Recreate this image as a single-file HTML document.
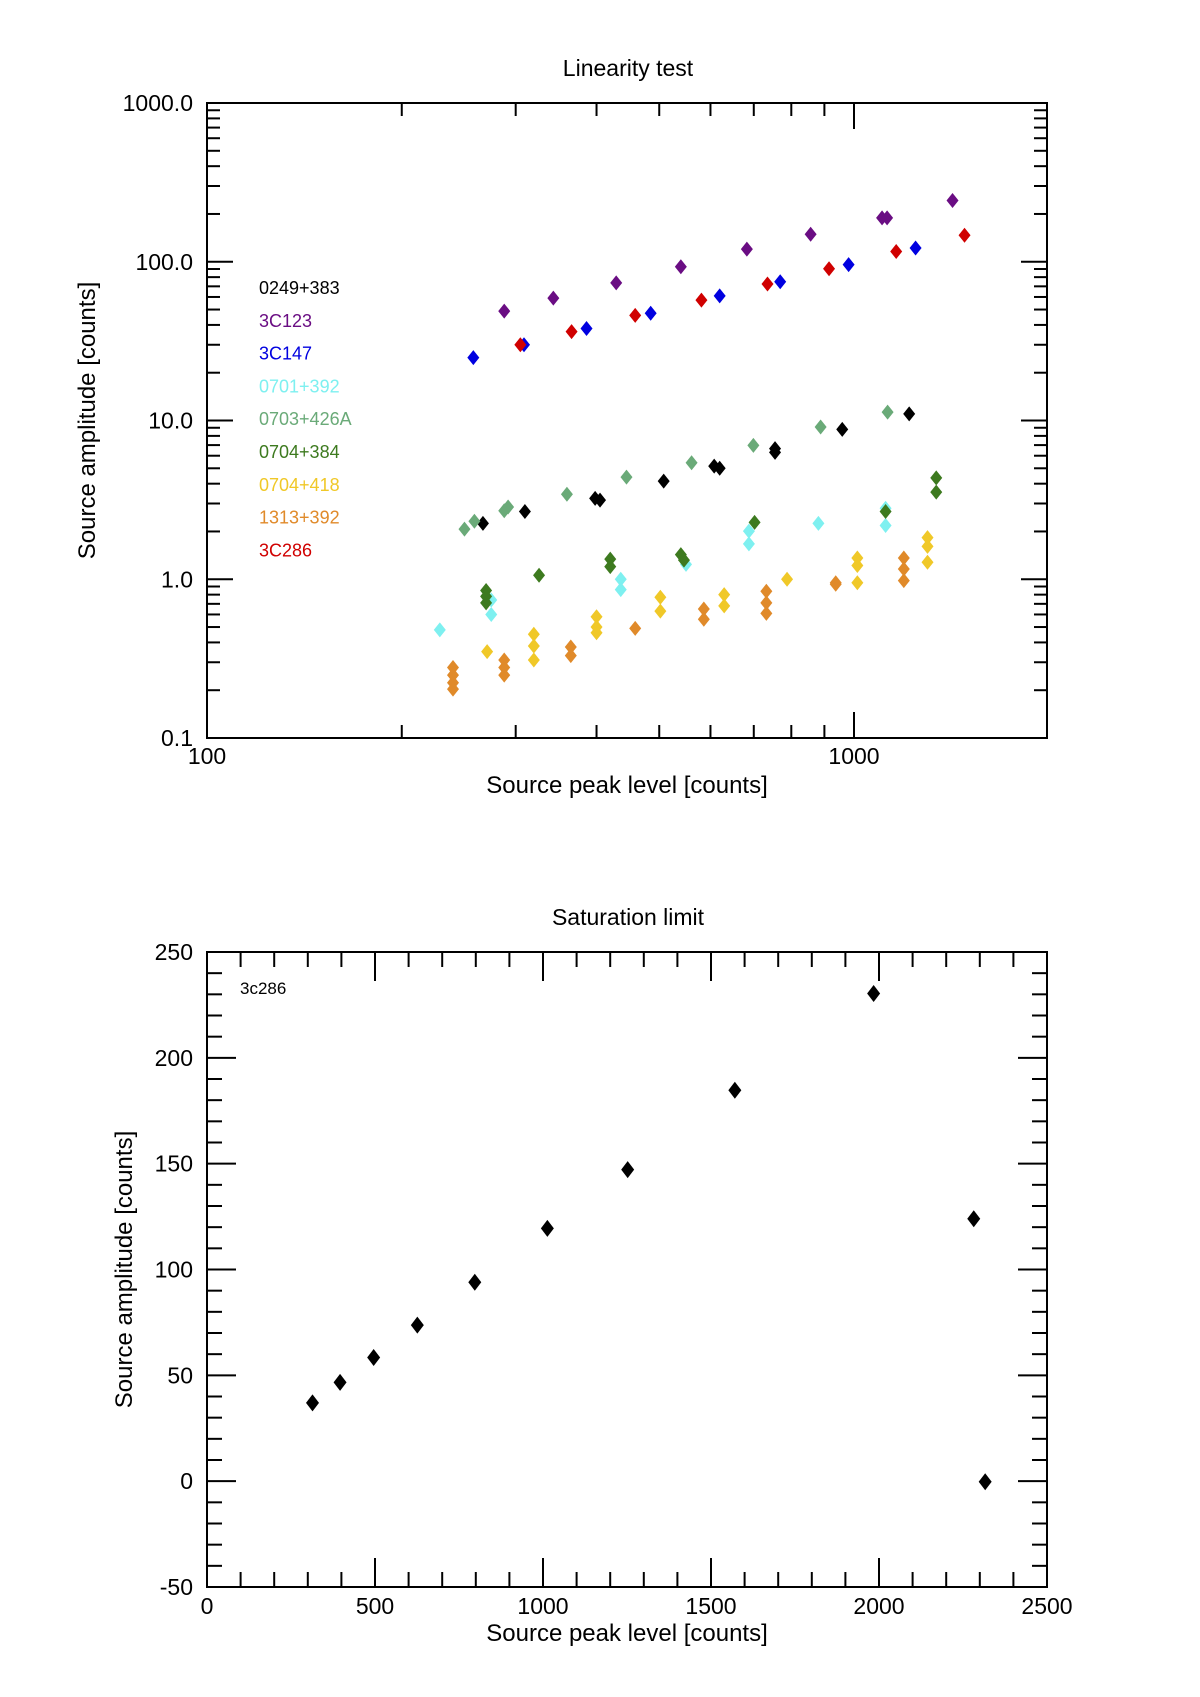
<!DOCTYPE html>
<html><head><meta charset="utf-8"><style>
body{margin:0;background:#fff;}
svg{display:block;font-family:"Liberation Sans",sans-serif;}
</style></head><body>
<svg id="svg" width="1200" height="1697" xmlns="http://www.w3.org/2000/svg">
<g id="topg"></g>
<g id="botg"></g>
</svg>
<script>
// ---- Linearity test data ----
const seriesNames = ["0249+383","3C123","3C147","0701+392","0703+426A","0704+384","0704+418","1313+392","3C286"];
const seriesColors = ["#000000","#6a0d83","#0000e0","#7ef0f0","#6aaa78","#3d7a1f","#f0c828","#e08a2a","#d00000"];
const x0249 = [267,310,398,405,508,608,620,755,755,959,1217];
const y0249 = [2.25,2.67,3.23,3.15,4.15,5.16,5.0,6.65,6.3,8.8,11.0];
const x3C123 = [288,343,429,540,683,857,1105,1125,1420];
const y3C123 = [48.9,59,73.6,93,120,149,189,189,243];
const x3C147 = [258,309,386,485,620,769,981,1245];
const y3C147 = [24.9,30,38,47.4,61,74.8,96,122];
const x0701 = [229,275,275,436,436,550,688,688,881,1119,1119];
const y0701 = [0.48,0.6,0.74,1.0,0.86,1.24,2.01,1.67,2.25,2.8,2.18];
const x0703 = [250,259,288,292,360,445,561,699,888,1127];
const y0703 = [2.07,2.32,2.7,2.85,3.43,4.4,5.42,6.97,9.1,11.3];
const x0704a = [270,270,270,326,420,420,540,546,702,1119,1340,1340];
const y0704a = [0.85,0.78,0.71,1.06,1.34,1.2,1.43,1.32,2.28,2.67,4.35,3.54];
const x0704b = [271,320,320,320,400,400,400,502,502,630,630,788,1012,1012,1012,1299,1299,1299];
const y0704b = [0.35,0.45,0.38,0.31,0.58,0.50,0.46,0.77,0.63,0.80,0.68,1.0,1.36,1.22,0.95,1.83,1.61,1.28];
const x1313 = [240,240,240,240,288,288,288,365,365,459,586,586,732,732,732,937,937,1194,1194,1194];
const y1313 = [0.278,0.249,0.223,0.203,0.31,0.278,0.249,0.374,0.33,0.49,0.65,0.56,0.84,0.71,0.61,0.95,0.93,1.36,1.16,0.98];
const x3C286 = [305,366,459,581,735,915,1162,1482];
const y3C286 = [30,36.3,45.9,57.3,72.4,90.4,116,147];
const topX = [x0249,x3C123,x3C147,x0701,x0703,x0704a,x0704b,x1313,x3C286];
const topY = [y0249,y3C123,y3C147,y0701,y0703,y0704a,y0704b,y1313,y3C286];
const topYTicks = ["0.1","1.0","10.0","100.0","1000.0"];
const topXTicks = ["100","1000"];
// ---- Saturation data ----
const satX = [314,396,496,626,797,1013,1252,1571,1984,2282,2316];
const satY = [37,46.7,58.4,73.7,94,119.4,147.2,184.7,230.4,124,-0.3];
const satXTicks = [0,500,1000,1500,2000,2500];
const satYTicks = [-50,0,50,100,150,200,250];

const NS="http://www.w3.org/2000/svg";
function mk(p,t,a){const el=document.createElementNS(NS,t);for(const k in a)el.setAttribute(k,a[k]);p.appendChild(el);return el;}
const PL=207,PR=1047;
const T1=103,B1=738;
const lx=v=>PL+(Math.log10(v)-2)*647;
const ly=v=>B1-(Math.log10(v)+1)*(B1-T1)/4;
const T2=952,B2=1587;
const sx=v=>PL+v*(PR-PL)/2500;
const sy=v=>B2-(v+50)*(B2-T2)/300;

function diamond(g,cx,cy,col,w,h){
  return mk(g,'polygon',{points:`${cx},${cy-h} ${cx+w},${cy} ${cx},${cy+h} ${cx-w},${cy}`,fill:col});
}
function txt(g,x,y,s,size,anchor,fill){const t=mk(g,'text',{x:x,y:y,'font-size':size,'text-anchor':anchor||'start',fill:fill||'#000'});t.textContent=s;return t;}

// ----- top chart -----
const topG=document.getElementById('topg');
let el=txt(topG,628,76,"Linearity test",23,'middle');


const ax1=mk(topG,'g',{stroke:'#000','stroke-width':2});


mk(ax1,'rect',{x:PL,y:T1,width:PR-PL,height:B1-T1,fill:'none'});
for(let d=-1;d<3;d++){for(let m=1;m<10;m++){const v=m*Math.pow(10,d);const y=ly(v);const len=m==1?26:13;
  if(m==1&&d==-1)continue;
  mk(ax1,'line',{x1:PL,y1:y,x2:PL+len,y2:y});mk(ax1,'line',{x1:PR,y1:y,x2:PR-len,y2:y});}}
[100,200,300,400,500,600,700,800,900,1000,2000].forEach(v=>{const x=lx(v);if(x>PR)return;const len=(v==100||v==1000)?26:13;
  mk(ax1,'line',{x1:x,y1:B1,x2:x,y2:B1-len});mk(ax1,'line',{x1:x,y1:T1,x2:x,y2:T1+len});});
topYTicks.forEach(s=>{const t=txt(topG,193,ly(parseFloat(s))+8,s,23,'end');
  
  });
topXTicks.forEach(s=>{const t=txt(topG,lx(parseFloat(s)),764,s,23,'middle');
  
  });
el=txt(topG,627,793,"Source peak level [counts]",24,'middle');


el=txt(topG,0,0,"Source amplitude [counts]",24,'middle');el.setAttribute('transform',`translate(95,${(T1+B1)/2}) rotate(-90)`);


seriesNames.forEach((n,i)=>{const t=txt(topG,259,294+i*32.8,n,18,'start',seriesColors[i]);
  
  });
topX.forEach((xs,i)=>{const g=mk(topG,'g',{});
  
  
  xs.forEach((xv,j)=>{const p=diamond(g,lx(xv),ly(topY[i][j]),seriesColors[i],6,7.5);
    
    });});

// ----- bottom chart -----
const botG=document.getElementById('botg');
el=txt(botG,628,925,"Saturation limit",23,'middle');


const ax2=mk(botG,'g',{stroke:'#000','stroke-width':2});


mk(ax2,'rect',{x:PL,y:T2,width:PR-PL,height:B2-T2,fill:'none'});
for(let v=-50;v<=250;v+=10){const y=sy(v);const len=v%50==0?29:15;
  mk(ax2,'line',{x1:PL,y1:y,x2:PL+len,y2:y});mk(ax2,'line',{x1:PR,y1:y,x2:PR-len,y2:y});}
for(let v=0;v<=2500;v+=100){const x=sx(v);const len=v%500==0?29:15;
  mk(ax2,'line',{x1:x,y1:B2,x2:x,y2:B2-len});mk(ax2,'line',{x1:x,y1:T2,x2:x,y2:T2+len});}
satYTicks.forEach(v=>{const t=txt(botG,193,sy(v)+8,String(v),23,'end');
  
  });
satXTicks.forEach(v=>{const t=txt(botG,sx(v),1614,String(v),23,'middle');
  
  });
el=txt(botG,627,1641,"Source peak level [counts]",24,'middle');


el=txt(botG,0,0,"Source amplitude [counts]",24,'middle');el.setAttribute('transform',`translate(132,${(T2+B2)/2}) rotate(-90)`);


el=txt(botG,240,994,"3c286",17,'start');


const sg=mk(botG,'g',{});


satX.forEach((xv,j)=>{const p=diamond(sg,sx(xv),sy(satY[j]),'#000',6.5,8.5);
  
  });
</script>
</body></html>
